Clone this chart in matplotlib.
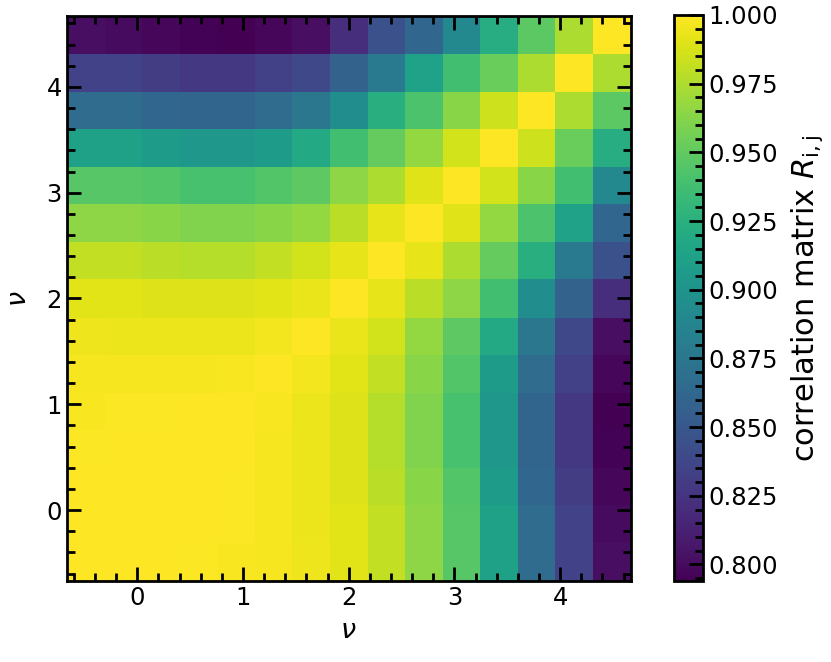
import numpy as np
import matplotlib
matplotlib.use('Agg')
import matplotlib.pyplot as plt
from matplotlib.ticker import MultipleLocator, AutoMinorLocator

# cell centres along both axes
nu = [-0.49, -0.13, 0.22, 0.58, 0.93, 1.29, 1.64, 2.00,
      2.36, 2.71, 3.07, 3.42, 3.78, 4.13, 4.49]

# lower triangle of the correlation matrix, row i holds R[i, 0..i]
lower = [
    [1.0],
    [0.9998, 1.0],
    [0.9995, 0.9998, 1.0],
    [0.999, 0.9995, 0.9995, 1.0],
    [0.998, 0.999, 0.999, 0.9995, 1.0],
    [0.997, 0.997, 0.997, 0.997, 0.998, 1.0],
    [0.995, 0.994, 0.994, 0.994, 0.994, 0.996, 1.0],
    [0.991, 0.991, 0.989, 0.989, 0.989, 0.991, 0.993, 1.0],
    [0.981, 0.981, 0.979, 0.977, 0.977, 0.981, 0.986, 0.992, 1.0],
    [0.965, 0.965, 0.963, 0.961, 0.961, 0.963, 0.967, 0.979, 0.992, 1.0],
    [0.946, 0.946, 0.944, 0.940, 0.940, 0.944, 0.949, 0.965, 0.975, 0.990, 1.0],
    [0.911, 0.911, 0.907, 0.903, 0.903, 0.907, 0.918, 0.938, 0.951, 0.967, 0.986, 1.0],
    [0.866, 0.866, 0.862, 0.860, 0.860, 0.866, 0.876, 0.895, 0.924, 0.942, 0.963, 0.984, 1.0],
    [0.835, 0.835, 0.831, 0.827, 0.827, 0.833, 0.839, 0.858, 0.878, 0.913, 0.938, 0.953, 0.975, 1.0],
    [0.802, 0.800, 0.798, 0.795, 0.794, 0.798, 0.802, 0.821, 0.845, 0.862, 0.891, 0.922, 0.948, 0.975, 1.0],
]

n = len(nu)
R = np.zeros((n, n))
for i, row in enumerate(lower):
    for j, v in enumerate(row):
        R[i, j] = v
        R[j, i] = v

plt.rcParams['font.size'] = 17.5

fig = plt.figure(figsize=(8.31, 6.62), dpi=100)
ax = fig.add_axes([0.0803, 0.1228, 0.6787, 0.8526])
cax = fig.add_axes([0.811, 0.1224, 0.0355, 0.855])

mesh = ax.pcolormesh(nu, nu, R, cmap='viridis', shading='nearest')
ax.set_xlim(-0.668, 4.668)
ax.set_ylim(-0.668, 4.668)
ax.set_xlabel(r'$\nu$', fontsize=19.5, labelpad=6)
ax.set_ylabel(r'$\nu$', fontsize=19.5, labelpad=10)

for a in (ax.xaxis, ax.yaxis):
    a.set_major_locator(MultipleLocator(1))
    a.set_minor_locator(AutoMinorLocator(5))
ax.tick_params(which='both', direction='in', top=True, right=True, width=2)
ax.tick_params(which='major', length=10)
ax.tick_params(which='minor', length=5.5)
for s in ax.spines.values():
    s.set_linewidth(2)

cb = fig.colorbar(mesh, cax=cax)
cb.set_label(r'correlation matrix $R_{\rm i,j}$', fontsize=22, labelpad=8)
cb.outline.set_linewidth(2)
cb.ax.yaxis.set_major_locator(MultipleLocator(0.025))
cb.ax.yaxis.set_minor_locator(AutoMinorLocator(5))
cb.ax.tick_params(which='both', direction='in', width=2)
cb.ax.tick_params(which='major', length=10)
cb.ax.tick_params(which='minor', length=5.5)

fig.savefig('out.png', dpi=100)
